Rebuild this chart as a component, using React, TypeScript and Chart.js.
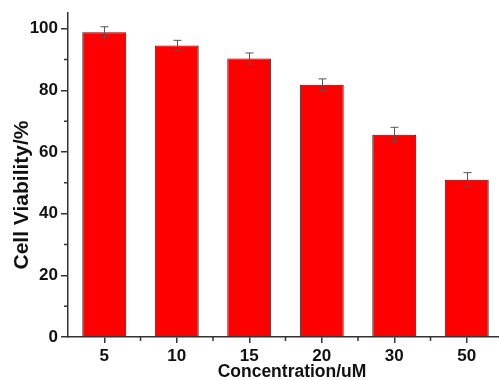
import React, { useEffect, useRef } from "react";
import { Chart, registerables } from "chart.js";

Chart.register(...registerables);

const categories = ["5", "10", "15", "20", "30", "50"];
const viability = [98.8, 94.5, 90.3, 81.8, 65.6, 51.0];
const errors = [1.8, 1.7, 1.8, 1.9, 2.4, 2.3];
const yMajorTicks = [0, 20, 40, 60, 80, 100];
const yMinorTicks = [10, 30, 50, 70, 90];

const FONT = "'Liberation Sans', Arial, sans-serif";

const customPlugin = {
  id: "custom",
  afterDatasetsDraw(chart: any) {
    const ctx = chart.ctx;
    const y = chart.scales.y;
    const meta = chart.getDatasetMeta(0);
    ctx.save();
    ctx.strokeStyle = "#555";
    ctx.lineWidth = 1;
    meta.data.forEach((bar: any, i: number) => {
      const x = Math.round(bar.x) + 0.5;
      const top = y.getPixelForValue(viability[i] + errors[i]);
      const bot = y.getPixelForValue(viability[i] - errors[i]);
      ctx.beginPath();
      ctx.moveTo(x, top);
      ctx.lineTo(x, bot);
      ctx.moveTo(x - 4, top);
      ctx.lineTo(x + 4, top);
      ctx.moveTo(x - 4, bot);
      ctx.lineTo(x + 4, bot);
      ctx.stroke();
    });
    ctx.restore();
  },
  afterDraw(chart: any) {
    const ctx = chart.ctx;
    const { left, bottom } = chart.chartArea;
    const y = chart.scales.y;
    const x = chart.scales.x;
    ctx.save();
    ctx.strokeStyle = "#333";
    ctx.lineWidth = 1.5;
    ctx.beginPath();
    yMinorTicks.forEach((v) => {
      const py = y.getPixelForValue(v);
      ctx.moveTo(left, py);
      ctx.lineTo(left - 4, py);
    });
    for (let i = 0; i < categories.length - 1; i++) {
      const px = (x.getPixelForValue(i) + x.getPixelForValue(i + 1)) / 2;
      ctx.moveTo(px, bottom);
      ctx.lineTo(px, bottom + 4);
    }
    ctx.stroke();

    ctx.fillStyle = "#111";
    ctx.textAlign = "center";
    ctx.textBaseline = "middle";
    ctx.font = `bold 17.5px ${FONT}`;
    ctx.fillText("Concentration/uM", 292, 372);
    ctx.translate(22, 195);
    ctx.rotate(-Math.PI / 2);
    ctx.font = `bold 21px ${FONT}`;
    ctx.fillText("Cell Viability/%", 0, 0);
    ctx.restore();
  },
};

export default function App() {
  const ref = useRef<HTMLCanvasElement>(null);
  useEffect(() => {
    document.body.style.margin = "0";
    const chart = new Chart(ref.current!, {
      type: "bar",
      data: {
        labels: categories,
        datasets: [
          {
            data: viability,
            backgroundColor: "#ff0000",
            borderColor: "#222",
            borderWidth: 1,
            categoryPercentage: 1,
            barPercentage: 0.606,
          },
        ],
      },
      options: {
        responsive: false,
        animation: false,
        layout: { padding: { top: 12, right: 1, left: 0, bottom: 0 } },
        plugins: { legend: { display: false }, tooltip: { enabled: false } },
        scales: {
          x: {
            type: "category",
            offset: true,
            grid: {
              offset: false,
              drawOnChartArea: false,
              drawTicks: true,
              tickLength: 6,
              color: "#333",
              lineWidth: 1.5,
            },
            border: { display: true, color: "#333", width: 1.5 },
            ticks: {
              color: "#111",
              font: { family: FONT, size: 17, weight: "bold" },
              padding: 3,
              maxRotation: 0,
            },
            afterFit: (s: any) => {
              s.height = 43;
            },
          },
          y: {
            min: 0,
            max: 105,
            afterBuildTicks: (s: any) => {
              s.ticks = yMajorTicks.map((v) => ({ value: v }));
            },
            grid: {
              drawOnChartArea: false,
              drawTicks: true,
              tickLength: 7,
              color: "#333",
              lineWidth: 1.5,
            },
            border: { display: true, color: "#333", width: 1.5 },
            ticks: {
              color: "#111",
              font: { family: FONT, size: 17, weight: "bold" },
              padding: 3,
            },
            afterFit: (s: any) => {
              s.width = 68;
            },
          },
        },
      },
      plugins: [customPlugin],
    } as any);
    return () => chart.destroy();
  }, []);
  return (
    <div style={{ position: "absolute", left: 0, top: 0, width: 499, height: 380, overflow: "hidden", background: "#fff" }}>
      <canvas ref={ref} width={504} height={380} style={{ display: "block" }} />
    </div>
  );
}
